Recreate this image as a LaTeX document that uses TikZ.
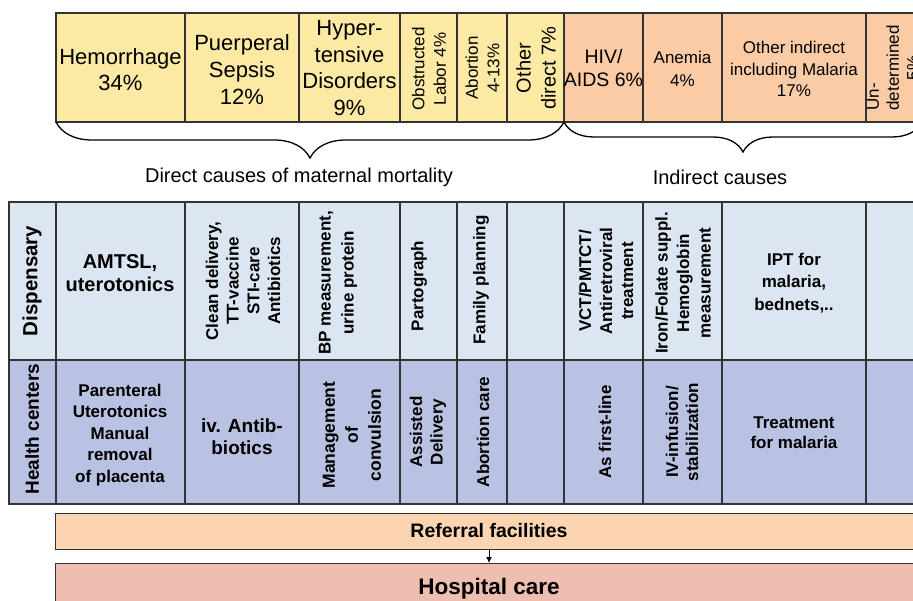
\documentclass[tikz,border=0pt]{standalone}
\usepackage{fontspec}
\setmainfont{Liberation Sans}
\usetikzlibrary{decorations.pathreplacing,arrows.meta}

\definecolor{directY}{HTML}{FCE9A3}
\definecolor{indirectO}{HTML}{FACBA5}
\definecolor{dispB}{HTML}{DCE6F2}
\definecolor{hcB}{HTML}{B9C2E2}
\definecolor{refO}{HTML}{FBD5B2}
\definecolor{hospR}{HTML}{EEBFB0}
\definecolor{edgeG}{HTML}{333333}

\newcommand\fsz[2]{\fontsize{#1}{#2}\selectfont}
% name, fill, x1, y1, x2, y2 (y grows downwards)
\newcommand\tabcell[6]{%
  \node[box, fill=#2, minimum width={(#5-#3)*1pt}, minimum height={(#6-#4)*1pt}] (#1) at (#3,#4) {};}

\begin{document}
\begin{tikzpicture}[x=1pt,y=-1pt,
  box/.style={draw=edgeG, line width=1.2pt, inner sep=0pt, outer sep=0pt, anchor=north west},
  txt/.style={align=center, inner sep=0pt, text=black},
  vtxt/.style={txt, rotate=90},
  bracestyle/.style={draw=black, line width=1.3pt, decorate},
  bar/.style={draw=edgeG, line width=1pt, inner sep=0pt, outer sep=0pt, anchor=north west,
              minimum width=868pt, font=\bfseries}]

\useasboundingbox (0,0) rectangle (913,601);
\clip (0,0) rectangle (913,601);

% ---- causes of maternal death ----
\foreach \n/\a/\b in {hem/56/185, sep/185/299, hyp/299/400, obs/400/457, abo/457/507, odir/507/564}
  {\tabcell{\n}{directY}{\a}{13}{\b}{122}}
\foreach \n/\a/\b in {hiv/564/643, ane/643/722, oind/722/866, und/866/922}
  {\tabcell{\n}{indirectO}{\a}{13}{\b}{122}}

\node[txt, font=\fsz{22}{26}] (t-hem) at (120.5,70) {Hemorrhage\\34\%};
\node[txt, font=\fsz{22}{27}] (t-sep) at (242,70) {Puerperal\\Sepsis\\12\%};
\node[txt, font=\fsz{22}{26.5}] (t-hyp) at (349.5,68) {Hyper-\\tensive\\Disorders\\9\%};
\node[vtxt, font=\fsz{17}{21.5}] (t-obs) at (429,69) {Obstructed\\Labor 4\%};
\node[vtxt, font=\fsz{17}{21.5}] (t-abo) at (482.5,68) {Abortion\\4-13\%};
\node[vtxt, font=\fsz{20}{25}] (t-odir) at (536,68) {Other\\direct 7\%};
\node[txt, font=\fsz{19.5}{23}] (t-hiv) at (603.5,68) {HIV/\\AIDS 6\%};
\node[txt, font=\fsz{17}{22.5}] (t-ane) at (682.5,69) {Anemia\\4\%};
\node[txt, font=\fsz{17}{21.5}] (t-oind) at (794,69) {Other indirect\\including Malaria\\17\%};
\node[vtxt, font=\fsz{17}{20}] (t-und) at (893,68) {\makebox[85pt][l]{Un-}\\determined\\5\%};

% ---- braces grouping the causes ----
\draw[bracestyle, decoration={brace, amplitude=36pt}] (odir.south east) -- (hem.south west);
\draw[bracestyle, decoration={brace, amplitude=30pt}] (und.south east) -- (hiv.south west);
\node[txt, font=\fsz{20}{24}] (l-direct) at (299,177) {Direct causes of maternal mortality};
\node[txt, font=\fsz{20}{24}] (l-indirect) at (720,177) {Indirect causes};

% ---- interventions by level of care ----
\foreach \n/\a/\b in {0/9/56, 1/56/185, 2/185/299, 3/299/400, 4/400/457, 5/457/507,
                      6/507/564, 7/564/643, 8/643/722, 9/722/866, 10/866/922}
  {\tabcell{d\n}{dispB}{\a}{202}{\b}{360}\tabcell{h\n}{hcB}{\a}{360}{\b}{504}}

\begin{scope}[every node/.append style={font=\bfseries}]
\node[vtxt, font=\bfseries\fsz{20.5}{24}] (t-d0) at (32,281) {Dispensary};
\node[txt, font=\bfseries\fsz{20}{23}] (t-d1) at (120,273) {AMTSL,\\uterotonics};
\node[vtxt, font=\bfseries\fsz{17}{20.7}] (t-d2) at (243,281) {Clean delivery,\\TT-vaccine\\STI-care\\Antibiotics};
\node[vtxt, font=\bfseries\fsz{17}{23}] (t-d3) at (338,283) {BP measurement,\\urine protein};
\node[vtxt, font=\bfseries\fsz{17}{21}] (t-d4) at (419,286) {Partograph};
\node[vtxt, font=\bfseries\fsz{17}{21}] (t-d5) at (481,280) {Family planning};
\node[vtxt, font=\bfseries\fsz{17}{21}] (t-d7) at (606,281) {VCT/PMTCT/\\Antiretroviral\\treatment};
\node[vtxt, font=\bfseries\fsz{17}{21.5}] (t-d8) at (683,283) {Iron/Folate suppl.\\Hemoglobin\\measurement};
\node[txt, font=\bfseries\fsz{17}{22.5}] (t-d9) at (794,283) {IPT for\\malaria,\\bednets,..};

\node[vtxt, font=\bfseries\fsz{19}{22}] (t-h0) at (32,429) {Health centers};
\node[txt, font=\bfseries\fsz{17}{21.5}] (t-h1) at (120,435) {Parenteral\\Uterotonics\\Manual\\removal\\of placenta};
\node[txt, font=\bfseries\fsz{19}{22}] (t-h2) at (242,437) {iv. Antib-\\biotics};
\node[vtxt, font=\bfseries\fsz{17.5}{23}] (t-h3) at (352,435) {Management\\of\\convulsion};
\node[vtxt, font=\bfseries\fsz{17}{20.5}] (t-h4) at (428,432) {Assisted\\Delivery};
\node[vtxt, font=\bfseries\fsz{17}{21}] (t-h5) at (483,432) {Abortion care};
\node[vtxt, font=\bfseries\fsz{17}{21}] (t-h7) at (605,432) {As first-line};
\node[vtxt, font=\bfseries\fsz{17}{20}] (t-h8) at (682,432) {IV-infusion/\\stabilization};
\node[txt, font=\bfseries\fsz{17}{20}] (t-h9) at (794,433) {Treatment\\for malaria};
\end{scope}

% ---- referral chain ----
\node[bar, fill=refO, minimum height=36pt, font=\bfseries\fsz{19.5}{23}] (ref) at (55,513) {Referral facilities};
\node[bar, fill=hospR, minimum height=52pt, font=\bfseries\fsz{22.5}{26}] (hosp) at (55,563) {Hospital care};
\draw[-{Latex[length=6pt,width=6pt]}, line width=1pt] (ref.south) -- (hosp.north);

\end{tikzpicture}
\end{document}
